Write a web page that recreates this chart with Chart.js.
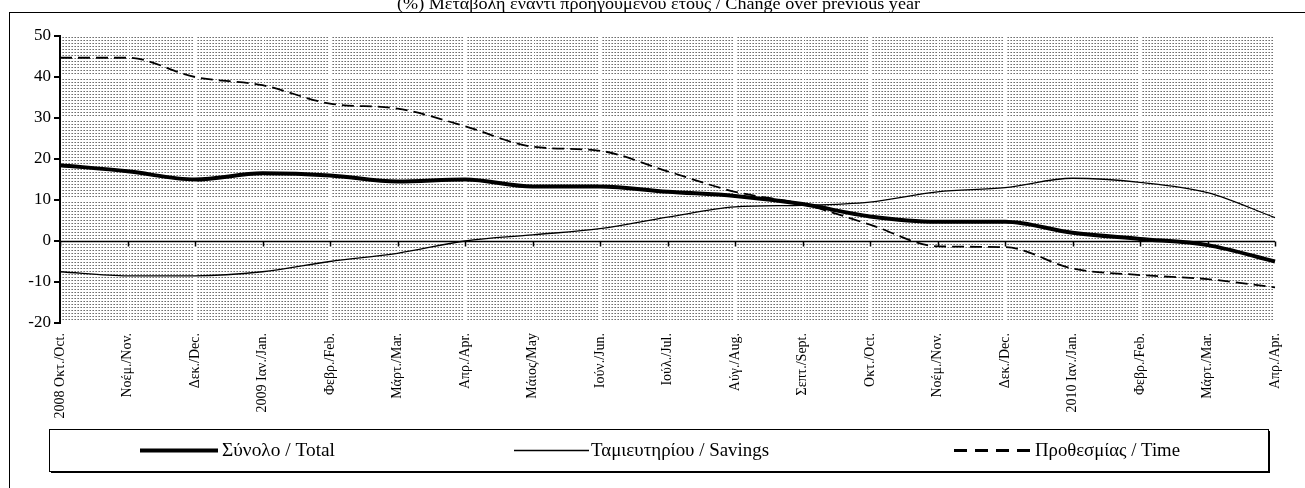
<!DOCTYPE html>
<html>
<head>
<meta charset="utf-8">
<script src="https://cdn.jsdelivr.net/npm/chart.js@4/dist/chart.umd.min.js"></script>
<style>
  html, body { margin: 0; padding: 0; background: #fff; }
  #wrap { width: 1305px; height: 488px; position: relative; }
</style>
</head>
<body>
<div id="wrap"><canvas id="depositsChart" width="1305" height="488"></canvas></div>
<script>
const months = [
    '2008 Οκτ./Oct.', 'Νοέμ./Nov.', 'Δεκ./Dec.', '2009 Ιαν./Jan.', 'Φεβρ./Feb.', 'Μάρτ./Mar.',
    'Απρ./Apr.', 'Μάιος/May', 'Ιούν./Jun.', 'Ιούλ./Jul.', 'Αύγ./Aug.', 'Σεπτ./Sept.',
    'Οκτ./Oct.', 'Νοέμ./Nov.', 'Δεκ./Dec.', '2010 Ιαν./Jan.', 'Φεβρ./Feb.', 'Μάρτ./Mar.', 'Απρ./Apr.'
];
const totalValues   = [18.5, 17.0, 15.0, 16.5, 16.0, 14.5, 15.0, 13.3, 13.3, 12.0, 11.0, 9.0, 6.0, 4.7, 4.7, 2.0, 0.5, -1.0, -5.0];
const savingsValues = [-7.5, -8.5, -8.5, -7.5, -5.0, -3.0, 0.0, 1.5, 3.0, 5.8, 8.3, 8.7, 9.5, 12.0, 13.0, 15.3, 14.3, 11.8, 5.7];
const timeValues    = [44.7, 44.7, 40.0, 38.0, 33.5, 32.3, 28.0, 23.0, 22.0, 17.0, 12.0, 9.0, 4.0, -1.3, -1.5, -6.7, -8.3, -9.3, -11.3];
const yTicks = [-20, -10, 0, 10, 20, 30, 40, 50];
const seriesNames = ['Σύνολο / Total', 'Ταμιευτηρίου / Savings', 'Προθεσμίας / Time'];
const chartTitle = '(%) Μεταβολή έναντι προηγούμενου έτους / Change over previous year';

const FONT = '"Liberation Serif", "DejaVu Serif", serif';

// dotted background like the old spreadsheet fill
function makePattern(ctx) {
    const tile = document.createElement('canvas');
    tile.width = 3;
    tile.height = 3;
    const t = tile.getContext('2d');
    t.fillStyle = '#fff';
    t.fillRect(0, 0, 3, 3);
    t.fillStyle = '#6e6e6e';
    t.fillRect(0, 1, 1, 1);
    t.fillStyle = '#a8a8a8';
    t.fillRect(2, 1, 1, 1);
    return ctx.createPattern(tile, 'repeat');
}

const backgroundPlugin = {
    id: 'patternBg',
    beforeDraw(chart) {
        const { ctx, chartArea: a } = chart;
        ctx.save();
        ctx.fillStyle = '#fff';
        ctx.fillRect(0, 0, chart.width, chart.height);
        ctx.fillStyle = makePattern(ctx);
        ctx.fillRect(a.left, a.top, a.right - a.left, a.bottom - a.top);
        ctx.restore();
    }
};

const zeroLinePlugin = {
    id: 'zeroLine',
    beforeDatasetsDraw(chart) {
        const { ctx, chartArea: a, scales } = chart;
        const y0 = Math.round(scales.y.getPixelForValue(0)) + 0.5;
        ctx.save();
        ctx.strokeStyle = '#000';
        ctx.lineWidth = 1.5;
        ctx.beginPath();
        ctx.moveTo(a.left, y0);
        ctx.lineTo(a.right, y0);
        months.forEach((m, i) => {
            const x = Math.round(scales.x.getPixelForValue(i)) + 0.5;
            ctx.moveTo(x, y0);
            ctx.lineTo(x, y0 + 5);
        });
        ctx.stroke();
        ctx.restore();
    }
};

// draw text squeezed to a given width (the original uses a narrow face)
function fitText(ctx, text, x, y, width) {
    const w = ctx.measureText(text).width;
    ctx.save();
    ctx.translate(x, y);
    ctx.scale(width / w, 1);
    ctx.fillText(text, 0, 0);
    ctx.restore();
}

const frameLegendPlugin = {
    id: 'frameLegend',
    afterDraw(chart) {
        const { ctx } = chart;
        ctx.save();
        // title, clipped at the top edge
        ctx.font = '17px ' + FONT;
        ctx.fillStyle = '#000';
        ctx.textBaseline = 'alphabetic';
        fitText(ctx, chartTitle, 397, 9, 523);

        // outer frame
        ctx.strokeStyle = '#000';
        ctx.lineWidth = 1;
        ctx.strokeRect(9.5, 12.5, 1400, 600);

        // legend box
        const bx = 49, by = 429, bw = 1219, bh = 42;
        ctx.fillStyle = '#fff';
        ctx.fillRect(bx, by, bw, bh);
        ctx.fillStyle = '#000';
        ctx.fillRect(bx + 2, by + bh, bw, 2);
        ctx.fillRect(bx + bw, by + 2, 2, bh);
        ctx.lineWidth = 1;
        ctx.strokeRect(bx + 0.5, by + 0.5, bw, bh);

        const ly = by + bh / 2 + 0.5;
        const items = [
            { x1: 140, x2: 218, width: 4, dash: [], text: 222, tw: 113 },
            { x1: 514, x2: 589, width: 1.5, dash: [], text: 591, tw: 178 },
            { x1: 954, x2: 1032, width: 3, dash: [13, 8], text: 1035, tw: 145 }
        ];
        ctx.font = '19px ' + FONT;
        ctx.textBaseline = 'middle';
        items.forEach((it, i) => {
            ctx.beginPath();
            ctx.setLineDash(it.dash);
            ctx.lineWidth = it.width;
            ctx.lineCap = 'butt';
            ctx.moveTo(it.x1, ly);
            ctx.lineTo(it.x2, ly);
            ctx.stroke();
            ctx.setLineDash([]);
            fitText(ctx, seriesNames[i], it.text, ly + 1, it.tw);
        });
        ctx.restore();
    }
};

const ctx = document.getElementById('depositsChart').getContext('2d');
new Chart(ctx, {
    type: 'line',
    data: {
        labels: months,
        datasets: [
            {
                label: seriesNames[0],
                data: totalValues,
                borderColor: '#000',
                borderWidth: 4,
                pointRadius: 0,
                cubicInterpolationMode: 'monotone'
            },
            {
                label: seriesNames[1],
                data: savingsValues,
                borderColor: '#000',
                borderWidth: 1.3,
                pointRadius: 0,
                cubicInterpolationMode: 'monotone'
            },
            {
                label: seriesNames[2],
                data: timeValues,
                borderColor: '#000',
                borderWidth: 1.8,
                borderDash: [12, 6],
                pointRadius: 0,
                cubicInterpolationMode: 'monotone'
            }
        ]
    },
    options: {
        responsive: false,
        animation: false,
        layout: { padding: { left: 9, right: 30, top: 36, bottom: 0 } },
        plugins: {
            legend: { display: false },
            tooltip: { enabled: false },
            title: { display: false }
        },
        scales: {
            x: {
                type: 'category',
                offset: false,
                grid: { color: '#fff', lineWidth: 2, drawTicks: false },
                border: { display: false },
                ticks: {
                    autoSkip: false,
                    minRotation: 90,
                    maxRotation: 90,
                    padding: 10,
                    color: '#000',
                    font: { family: FONT, size: 14 }
                },
                afterFit(scale) { scale.height = 165; }
            },
            y: {
                min: yTicks[0],
                max: yTicks[yTicks.length - 1],
                afterBuildTicks(scale) { scale.ticks = yTicks.map(v => ({ value: v })); },
                grid: { color: '#fff', lineWidth: 2, tickColor: '#000', tickLength: 6, drawTicks: true },
                border: { color: '#000', width: 2 },
                ticks: {
                    padding: 3,
                    color: '#000',
                    font: { family: FONT, size: 17 }
                },
                afterFit(scale) { scale.width = 51; }
            }
        }
    },
    plugins: [backgroundPlugin, zeroLinePlugin, frameLegendPlugin]
});
</script>
</body>
</html>
